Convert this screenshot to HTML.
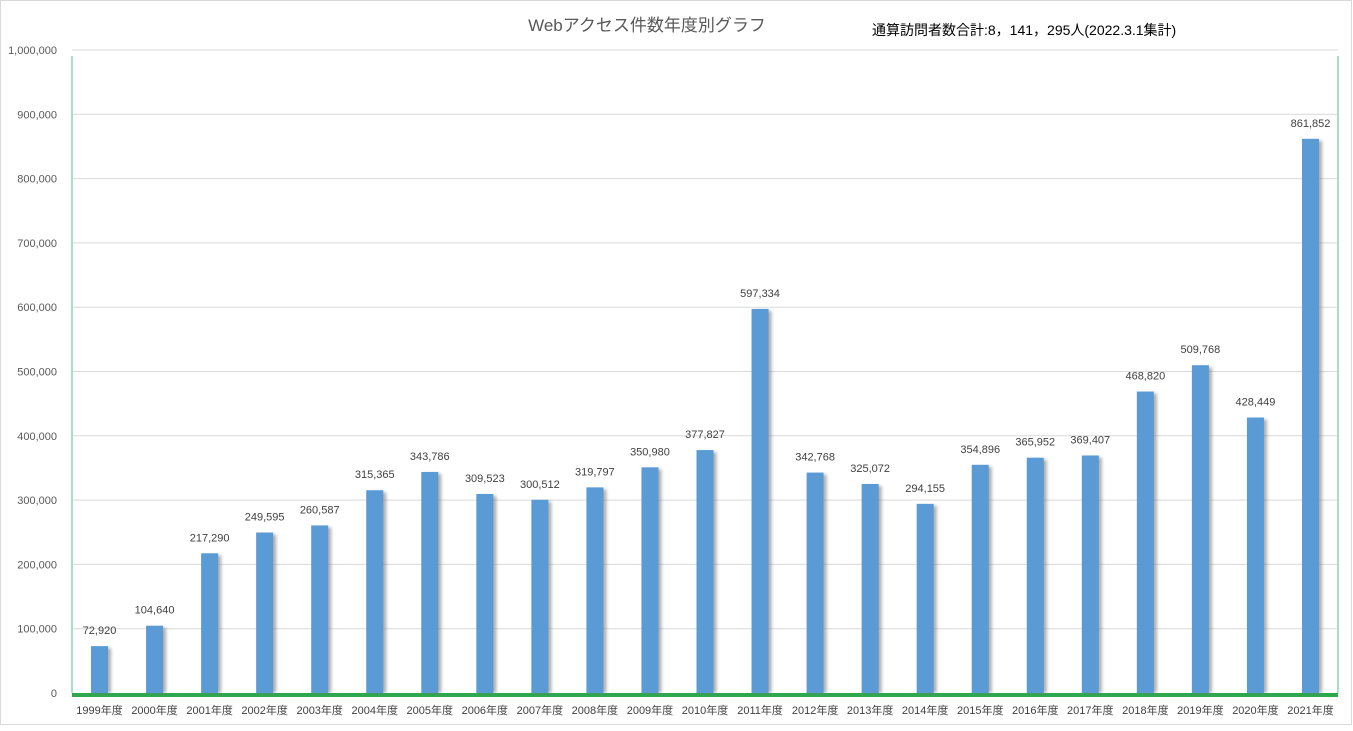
<!DOCTYPE html>
<html><head><meta charset="utf-8"><style>
body{margin:0;background:#fff}
svg text{font-family:"Liberation Sans","Noto Sans CJK JP",sans-serif}
</style></head><body>
<svg width="1353" height="726" xmlns="http://www.w3.org/2000/svg" id="c">
<defs><filter id="sh" x="-20%" y="-5%" width="160%" height="110%"><feGaussianBlur stdDeviation="1.5"/></filter></defs>
<rect x="0.5" y="0.5" width="1351" height="724" fill="#fff" stroke="#d9d9d9"/>
<text x="647" y="31" font-size="17" fill="#595959" text-anchor="middle">Webアクセス件数年度別グラフ</text>
<text x="872" y="35" font-size="14" fill="#000">通算訪問者数合計:8，141，295人(2022.3.1集計)</text>
<g id="grid"></g><g id="bars"></g><g id="labels"></g>
</svg>
<script>
const categories=["1999年度","2000年度","2001年度","2002年度","2003年度","2004年度","2005年度","2006年度","2007年度","2008年度","2009年度","2010年度","2011年度","2012年度","2013年度","2014年度","2015年度","2016年度","2017年度","2018年度","2019年度","2020年度","2021年度"];
const values=[72920,104640,217290,249595,260587,315365,343786,309523,300512,319797,350980,377827,597334,342768,325072,294155,354896,365952,369407,468820,509768,428449,861852];
const yTicks=[0,100000,200000,300000,400000,500000,600000,700000,800000,900000,1000000];
const NS="http://www.w3.org/2000/svg";
const L=72,R=1338,T=50,B=693,yMax=1000000;
const y=v=>B-(v/yMax)*(B-T);
const bw=(R-L)/categories.length;
const x=i=>L+bw*(i+0.5);
function mk(tag,attrs,parent){const e=document.createElementNS(NS,tag);for(const k in attrs)e.setAttribute(k,attrs[k]);document.getElementById(parent).appendChild(e);return e;}
const fmt=v=>v.toLocaleString('en-US');
yTicks.forEach(t=>{
 if(t>0){const g=mk('line',{x1:L,x2:R,y1:y(t),y2:y(t),stroke:'#d9d9d9'},'grid');
 
 }
 const tx=mk('text',{x:57,y:y(t)+4,'font-size':11,fill:'#595959','text-anchor':'end'},'grid');tx.textContent=fmt(t);
 
 
});
const lw=mk('line',{x1:L,x2:L,y1:T+6,y2:B,stroke:'#a8e0c4','stroke-width':2},'grid');


const rw=mk('line',{x1:R,x2:R,y1:T+6,y2:B,stroke:'#a8e0c4','stroke-width':2},'grid');


const fl=mk('rect',{x:L,y:B,width:R-L,height:4,fill:'#2ea84f'},'grid');


values.forEach((v,i)=>{
 const w=17,cx=x(i);
 const s=mk('rect',{x:cx-w/2+3,y:y(v)+2,width:w,height:B-y(v)-2,fill:'#777',opacity:0.6,filter:'url(#sh)'},'bars');
 
 
 const b=mk('rect',{x:cx-w/2,y:y(v),width:w,height:B-y(v),fill:'#5b9bd5'},'bars');
 
 
 const t=mk('text',{x:cx,y:y(v)-12,'font-size':11,fill:'#404040','text-anchor':'middle'},'labels');t.textContent=fmt(v);
 
 
 const c=mk('text',{x:cx,y:714,'font-size':11,fill:'#404040','text-anchor':'middle'},'labels');c.textContent=categories[i];
 
 
});
</script>
</body></html>
